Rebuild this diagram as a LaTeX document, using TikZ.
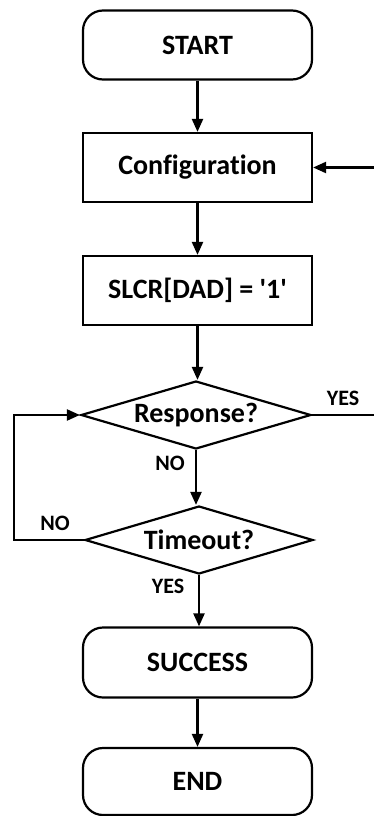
\documentclass[tikz,border=0pt]{standalone}
\usepackage{fontspec}
\setmainfont{Carlito}[Ligatures={TeXOff,CommonOff}]
\usetikzlibrary{shapes.geometric,arrows.meta}
\begin{document}
\begin{tikzpicture}[x=1pt,y=-1pt,
  box/.style={draw,line width=2.2pt,minimum width=229pt,minimum height=69pt,inner sep=0pt,font=\bfseries\fontsize{28}{30}\selectfont},
  term/.style={box,rounded corners=20pt},
  dec/.style={draw,line width=2.2pt,diamond,aspect=3.4,minimum width=230pt,minimum height=68pt,inner sep=0pt,font=\bfseries\fontsize{28}{30}\selectfont},
  lbl/.style={font=\bfseries\fontsize{22}{24}\selectfont,inner sep=0pt},
  arr/.style={line width=2.2pt,-{Triangle[length=13pt,width=11pt]}},
  ln/.style={line width=2.2pt}]
\useasboundingbox (0,0) rectangle (374,816);
\node[term] (start) at (197.5,45) {START};
\node[box] (conf) at (197.5,167.5) {Configuration};
\node[box] (slcr) at (197.5,290.5) {SLCR[DAD] = '1'};
\node[dec,minimum width=230pt] (resp) at (196,415) {Response?};
\node[dec,minimum width=228pt] (tmo) at (199,540) {Timeout?};
\node[term,minimum height=70pt] (succ) at (197.5,662.5) {SUCCESS};
\node[term,minimum height=67pt] (end) at (197.5,781.5) {END};
\coordinate (rin) at (374,167.5);
\coordinate (rout) at (374,415);
\coordinate (lc1) at (14,540);
\coordinate (lc2) at (14,415);
\draw[arr] (start) -- (conf);
\draw[arr] (conf) -- (slcr);
\draw[arr] (slcr.south) -- (slcr.south |- resp.north);
\draw[arr] (resp.south) -- (resp.south |- tmo.north);
\draw[arr] (tmo.south) -- (tmo.south |- succ.north);
\draw[arr] (succ) -- (end);
\draw[arr] (rin) -- (conf.east);
\draw[ln] (resp.east) -- (rout);
\draw[arr] (tmo.west) -- (lc1) -- (lc2) -- (resp.west);
\node[lbl] (ly1) at (343,398) {YES};
\node[lbl] (ln1) at (170,463) {NO};
\node[lbl] (ln2) at (55,523) {NO};
\node[lbl] (ly2) at (168,586) {YES};
\end{tikzpicture}
\end{document}
